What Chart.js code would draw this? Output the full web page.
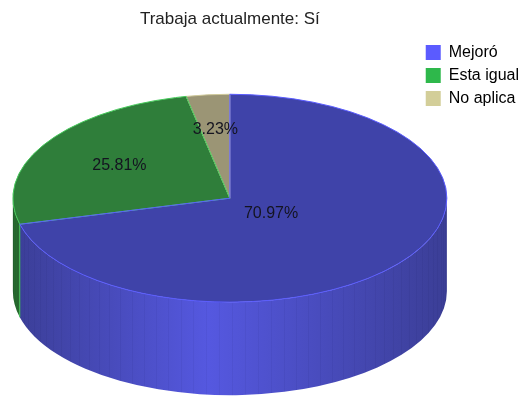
<!DOCTYPE html>
<html>
<head>
<meta charset="utf-8">
<script src="https://cdn.jsdelivr.net/npm/chart.js@4.4.1/dist/chart.umd.min.js"></script>
<style>
  html, body { margin: 0; padding: 0; background: #fff; }
  #wrap { width: 522px; height: 397px; position: relative; }
</style>
</head>
<body>
<div id="wrap"><canvas id="pieChart"></canvas></div>
<script>
// Datos del gráfico
const categorias = ['Mejoró', 'Esta igual', 'No aplica'];
const respuestas = [22, 8, 1];

// Colores: cara superior, leyenda y lateral (claro / oscuro)
const coloresTapa = ['#3f43a9', '#2f7e3a', '#9b9575'];
const coloresLeyenda = ['#5b5bff', '#2eb84b', '#d3ce99'];
const coloresBorde = ['#5a5cff', '#45c95a', '#cfc99a'];
const lateralClaro = ['#5558e0', '#2f7c37', '#9b9575'];
const lateralOscuro = ['#3b3e96', '#276a2e', '#7d7860'];

const INCLINACION = 0.479;   // relación alto/ancho de la elipse
const PROFUNDIDAD = 93;      // grosor del disco en px
const RADIO_ETIQUETA = [0.24, 0.6, 0.66];

// Plugin que aplana el pastel y le dibuja el canto para darle volumen
const pastel3D = {
    id: 'pastel3D',
    beforeDatasetsDraw(chart) {
        const ctx = chart.ctx;
        const arcos = chart.getDatasetMeta(0).data;
        const { x, y, outerRadius: r } = arcos[0];
        const ry = r * INCLINACION;

        // Canto visible: sólo la mitad delantera (ángulos 0..PI)
        arcos.forEach((arco, i) => {
            const a = Math.max(arco.startAngle, 0);
            const b = Math.min(arco.endAngle, Math.PI);
            if (b <= a) return;
            const grad = ctx.createLinearGradient(x - r, 0, x + r, 0);
            grad.addColorStop(0, lateralOscuro[i]);
            grad.addColorStop(0.45, lateralClaro[i]);
            grad.addColorStop(1, lateralOscuro[i]);
            ctx.save();
            ctx.beginPath();
            ctx.ellipse(x, y, r, ry, 0, a, b);
            ctx.ellipse(x, y + PROFUNDIDAD, r, ry, 0, b, a, true);
            ctx.closePath();
            ctx.fillStyle = grad;
            ctx.fill();
            // rayas verticales suaves del canto
            ctx.clip();
            ctx.strokeStyle = 'rgba(0,0,40,0.045)';
            ctx.lineWidth = 1;
            for (let t = a; t < b; t += 0.06) {
                const px = Math.round(x + r * Math.cos(t)) + 0.5;
                ctx.beginPath();
                ctx.moveTo(px, y);
                ctx.lineTo(px, y + PROFUNDIDAD + ry + 2);
                ctx.stroke();
            }
            ctx.restore();
            // arista vertical entre porciones
            if (arco.startAngle > 0 && arco.startAngle < Math.PI) {
                const px = x + r * Math.cos(arco.startAngle);
                const py = y + ry * Math.sin(arco.startAngle);
                ctx.save();
                ctx.strokeStyle = coloresBorde[i];
                ctx.lineWidth = 1;
                ctx.beginPath();
                ctx.moveTo(px, py);
                ctx.lineTo(px, py + PROFUNDIDAD);
                ctx.stroke();
                ctx.restore();
            }
        });

        // La cara superior se dibuja aplanada
        ctx.save();
        ctx.translate(0, y);
        ctx.scale(1, INCLINACION);
        ctx.translate(0, -y);
    },
    afterDatasetsDraw(chart) {
        const ctx = chart.ctx;
        ctx.restore();
        const arcos = chart.getDatasetMeta(0).data;
        const { x, y, outerRadius: r } = arcos[0];
        const ry = r * INCLINACION;

        // Bordes claros de cada porción
        for (let i = arcos.length - 1; i >= 0; i--) {
            const arco = arcos[i];
            ctx.save();
            ctx.strokeStyle = coloresBorde[i];
            ctx.lineWidth = 1;
            ctx.beginPath();
            ctx.moveTo(x, y);
            ctx.ellipse(x, y, r, ry, 0, arco.startAngle, arco.endAngle);
            ctx.closePath();
            ctx.stroke();
            ctx.restore();
        }

        // Porcentajes
        const total = respuestas.reduce((s, v) => s + v, 0);
        ctx.save();
        ctx.font = '16px "Liberation Sans", Arial, sans-serif';
        ctx.fillStyle = '#141420';
        ctx.textAlign = 'center';
        ctx.textBaseline = 'middle';
        arcos.forEach((arco, i) => {
            const medio = (arco.startAngle + arco.endAngle) / 2;
            const f = RADIO_ETIQUETA[i];
            const tx = x + r * f * Math.cos(medio);
            const ty = y + ry * f * Math.sin(medio);
            ctx.fillText((respuestas[i] / total * 100).toFixed(2) + '%', tx, ty);
        });
        ctx.restore();
    }
};

const ctx = document.getElementById('pieChart').getContext('2d');
const pieChartInstance = new Chart(ctx, {
    type: 'pie',
    data: {
        labels: categorias,
        datasets: [{
            data: respuestas,
            backgroundColor: coloresTapa,
            borderWidth: 0,
            radius: 217,
            clip: false
        }]
    },
    options: {
        responsive: true,
        maintainAspectRatio: false,
        animation: false,
        events: [],
        layout: {
            padding: { left: 41, right: -7, top: 0, bottom: 38 }
        },
        plugins: {
            title: {
                display: true,
                fullSize: false,
                text: 'Trabaja actualmente: Sí',
                color: '#222',
                font: { family: '"Liberation Sans", Arial, sans-serif', size: 17, weight: 'normal' },
                padding: { top: 9, bottom: 8 }
            },
            legend: {
                position: 'right',
                align: 'start',
                fullSize: false,
                labels: {
                    boxWidth: 15,
                    boxHeight: 15,
                    padding: 7,
                    color: '#111',
                    font: { family: '"Liberation Sans", Arial, sans-serif', size: 16 },
                    generateLabels(chart) {
                        return chart.data.labels.map((texto, i) => ({
                            text: texto,
                            fillStyle: coloresLeyenda[i],
                            strokeStyle: coloresLeyenda[i],
                            lineWidth: 0,
                            index: i
                        }));
                    }
                }
            },
            tooltip: { enabled: false }
        }
    },
    plugins: [pastel3D]
});
</script>
</body>
</html>
